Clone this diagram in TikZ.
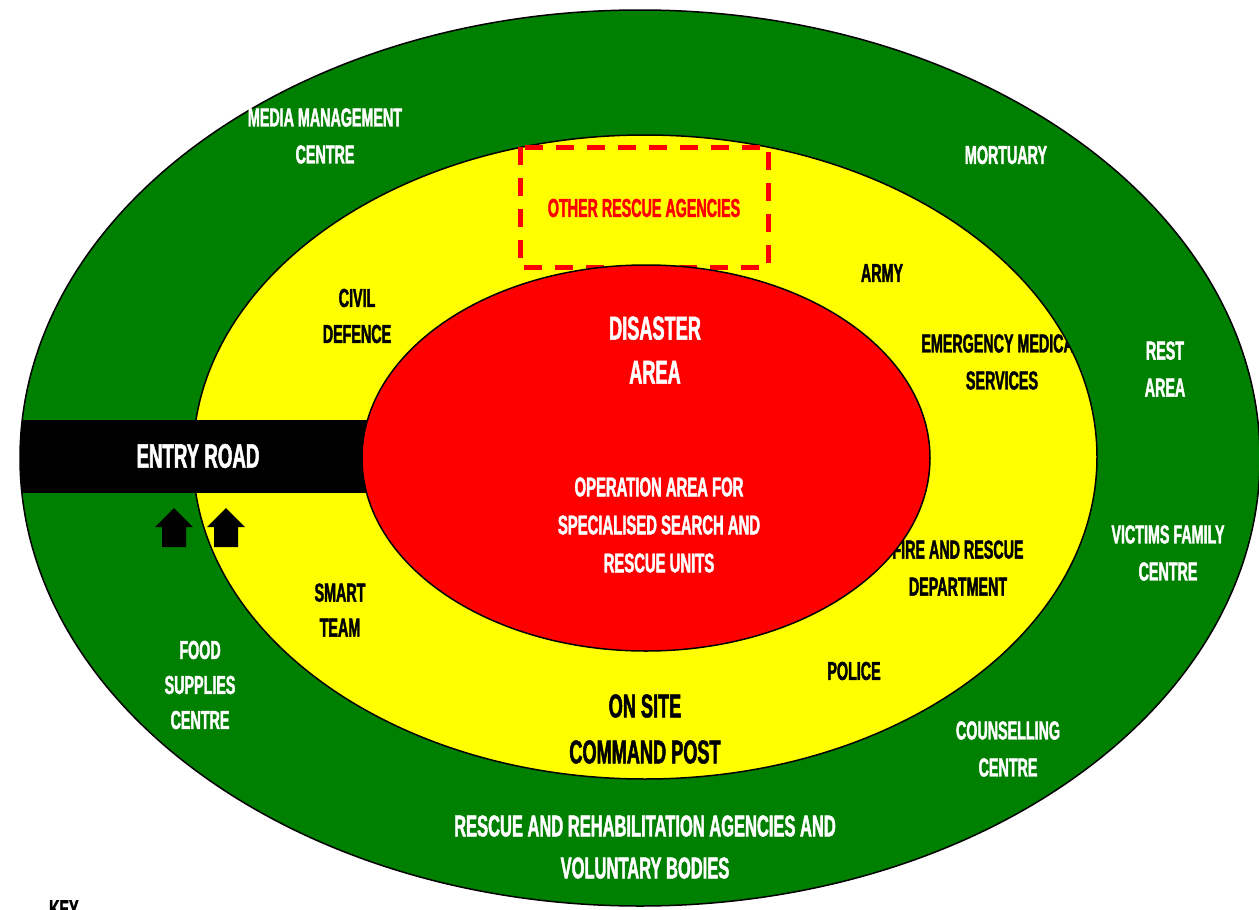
\documentclass[tikz,border=0pt]{standalone}
\usepackage{fontspec}
\newfontfamily\cond{Liberation Sans}[FakeStretch=0.55, BoldFeatures={FakeBold=1.5}]
\definecolor{dgreen}{RGB}{0,128,0}
\definecolor{yel}{RGB}{255,255,0}
\definecolor{rd}{RGB}{255,0,0}
\tikzset{
  zone/.style={draw=black, line width=1.5pt},
  lbl/.style={font=\cond\bfseries\fontsize{26}{37}\selectfont, align=center, inner sep=0pt},
  wlbl/.style={lbl, text=white},
  blbl/.style={lbl, text=black},
  big/.style={font=\cond\bfseries\fontsize{33}{44}\selectfont, align=center, inner sep=0pt},
  uparrow/.style={fill=black, draw=none},
}
\begin{document}
\begin{tikzpicture}[x=1pt, y=-1pt]
\useasboundingbox (0,0) rectangle (1259,910);
% outer green zone
\fill[dgreen] (640,458) ellipse [x radius=620, y radius=448];
\draw[zone] (640,458) ellipse [x radius=620, y radius=448];
% yellow zone
\fill[yel] (645,457) ellipse [x radius=452, y radius=322];
\draw[zone] (645,457) ellipse [x radius=452, y radius=322];
% entry road
\begin{scope}
  \clip (640,458) ellipse [x radius=620, y radius=448];
  \fill[black] (10,420) rectangle (420,493);
\end{scope}
\node[font=\cond\bfseries\fontsize{34}{40}\selectfont, text=white, inner sep=0pt] (entry) at (198,456) {ENTRY ROAD};
% arrows
\fill[uparrow] (162,547) -- (186,547) -- (186,527) -- (193,527) -- (174,508) -- (155,527) -- (162,527) -- cycle;
\fill[uparrow] (214,547) -- (238,547) -- (238,527) -- (245,527) -- (226,508) -- (207,527) -- (214,527) -- cycle;
% dashed box
\draw[rd, line width=5pt, dash pattern=on 18pt off 13pt] (520,147) rectangle (768,267);
\node[lbl, text=rd] (other) at (644,208) {OTHER RESCUE AGENCIES};
% yellow zone labels
\node[blbl] (civil) at (357,316) {CIVIL\\[-1pt]DEFENCE};
\node[blbl] (army) at (882,273) {ARMY};
\begin{scope}
  \clip (645,457) ellipse [x radius=452, y radius=322];
  \node[blbl] (ems) at (1002,362) {EMERGENCY MEDICAL\\SERVICES};
\end{scope}
\node[blbl] (fire) at (958,568) {FIRE AND RESCUE\\DEPARTMENT};
\node[blbl] (smart) at (340,610) {SMART\\[-2pt]TEAM};
\node[blbl] (police) at (854,671) {POLICE};
\node[big, text=black, font=\cond\bfseries\fontsize{33}{46}\selectfont] (onsite) at (645,729) {ON SITE\\COMMAND POST};
% red zone
\fill[rd] (646,458) ellipse [x radius=284, y radius=193];
\draw[zone] (646,458) ellipse [x radius=284, y radius=193];
\node[big, text=white] (disaster) at (655,350) {DISASTER\\AREA};
\node[wlbl, font=\cond\bfseries\fontsize{27}{38}\selectfont] (operation) at (659,525) {OPERATION AREA FOR\\SPECIALISED SEARCH AND\\RESCUE UNITS};
% green zone labels
\node[wlbl] (media) at (325,136) {MEDIA MANAGEMENT\\CENTRE};
\node[wlbl] (mortuary) at (1006,155) {MORTUARY};
\node[wlbl] (rest) at (1165,369) {REST\\AREA};
\node[wlbl] (victims) at (1168,553) {VICTIMS FAMILY\\CENTRE};
\node[wlbl, font=\cond\bfseries\fontsize{26}{35}\selectfont] (food) at (200,685) {FOOD\\SUPPLIES\\CENTRE};
\node[wlbl] (counsel) at (1008,749) {COUNSELLING\\CENTRE};
\node[wlbl, font=\cond\bfseries\fontsize{30}{42}\selectfont] (rescue) at (645,847) {RESCUE AND REHABILITATION AGENCIES AND\\VOLUNTARY BODIES};
% key
\node[blbl, anchor=north west] (key) at (49,900) {KEY};
\end{tikzpicture}
\end{document}
